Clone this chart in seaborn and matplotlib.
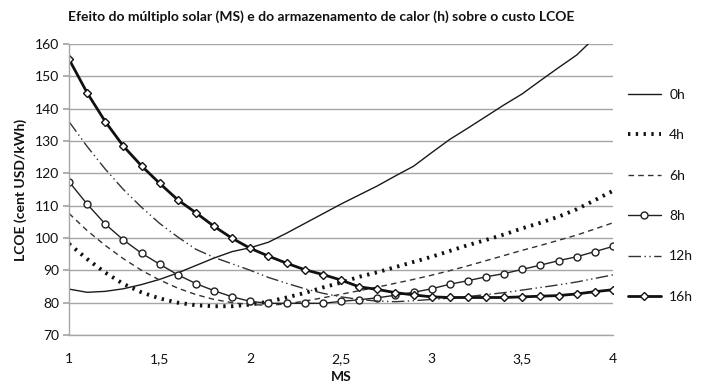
import matplotlib
matplotlib.use("Agg")
import matplotlib.pyplot as plt
import seaborn as sns
import numpy as np

ms = [1.0, 1.1, 1.2, 1.3, 1.4, 1.5, 1.6, 1.7, 1.8, 1.9, 2.0,
      2.1, 2.2, 2.3, 2.4, 2.5, 2.6, 2.7, 2.8, 2.9, 3.0,
      3.1, 3.2, 3.3, 3.4, 3.5, 3.6, 3.7, 3.8, 3.9, 4.0]

h0 = [84.2, 83.2, 83.5, 84.3, 85.6, 87.2, 89.2, 91.5, 93.8, 95.8, 97.0,
      98.7, 101.5, 104.5, 107.5, 110.5, 113.3, 116.1, 119.2, 122.2, 126.4,
      130.5, 134.0, 137.6, 141.2, 144.6, 148.7, 152.7, 156.6, 162.0, 168.0]
h4 = [98.2, 93.5, 89.3, 85.8, 83.2, 81.3, 80.0, 79.2, 78.9, 78.9, 79.4,
      80.3, 81.6, 83.0, 84.7, 86.2, 88.0, 89.4, 91.0, 92.6, 94.2,
      96.0, 97.8, 99.4, 101.1, 103.0, 104.7, 106.6, 108.9, 111.7, 114.6]
h6 = [107.6, 102.3, 97.7, 93.6, 90.0, 87.0, 84.5, 82.5, 81.0, 80.0, 79.4,
      79.2, 79.6, 80.5, 81.5, 82.6, 83.7, 84.8, 86.0, 87.2, 88.5,
      89.9, 91.4, 93.0, 94.6, 96.2, 97.7, 99.3, 100.9, 102.8, 104.7]
h8 = [117.4, 110.5, 104.3, 99.4, 95.3, 91.9, 88.6, 85.9, 83.7, 81.8, 80.4,
      79.8, 79.8, 79.8, 79.8, 80.4, 80.9, 81.5, 82.3, 83.2, 84.3,
      85.7, 86.8, 88.0, 89.0, 90.3, 91.6, 93.0, 94.2, 95.8, 97.4]
h12 = [136.0, 128.3, 121.3, 115.0, 109.5, 104.5, 100.3, 96.5, 94.0, 92.0, 90.0,
       87.8, 86.0, 84.3, 82.9, 81.8, 81.0, 80.5, 80.3, 80.6, 81.0,
       81.4, 81.9, 82.5, 83.1, 83.9, 84.7, 85.5, 86.4, 87.5, 88.6]
h16 = [155.3, 144.9, 136.0, 128.4, 122.3, 116.9, 111.8, 107.8, 103.6, 99.9, 96.8,
       94.4, 92.2, 90.2, 88.7, 87.0, 84.9, 84.1, 83.1, 82.4, 81.8,
       81.6, 81.6, 81.6, 81.6, 81.8, 82.0, 82.2, 82.7, 83.4, 84.0]

labels = ["0h", "4h", "6h", "8h", "12h", "16h"]
series = [h0, h4, h6, h8, h12, h16]

xticks = [1, 1.5, 2, 2.5, 3, 3.5, 4]
xticklabels = ["1", "1,5", "2", "2,5", "3", "3,5", "4"]
yticks = [70, 80, 90, 100, 110, 120, 130, 140, 150, 160]

title = "Efeito do múltiplo solar (MS) e do armazenamento de calor (h) sobre o custo LCOE"

sns.set_theme(style="white")
plt.rcParams['font.family'] = ['Lato', 'DejaVu Sans']

W, H = 704, 387
fig = plt.figure(figsize=(W / 100, H / 100), dpi=100)
ax = fig.add_axes([69 / W, 1 - 335 / H, (613 - 69) / W, (335 - 44) / H])

styles = [
    dict(color="#1a1a1a", linewidth=1.0, linestyle="-"),
    dict(color="#111111", linewidth=2.8, linestyle=(0, (0.6, 1.4)), dash_capstyle="butt"),
    dict(color="#333333", linewidth=1.0, linestyle=(0, (4, 3))),
    dict(color="#222222", linewidth=1.0, linestyle="-", marker="o", markersize=5,
         markerfacecolor="white", markeredgecolor="#222222", markeredgewidth=1.0),
    dict(color="#333333", linewidth=1.0, linestyle=(0, (9, 2.5, 1, 2.5, 1, 2.5))),
    dict(color="#111111", linewidth=2.0, linestyle="-", marker="D", markersize=4.5,
         markerfacecolor="white", markeredgecolor="#111111", markeredgewidth=1.0),
]

for lab, vals, st in zip(labels, series, styles):
    sns.lineplot(x=ms, y=vals, ax=ax, label=lab, **st)

ax.set_xlim(1, 4)
ax.set_ylim(70, 160)
ax.set_xticks(xticks)
ax.set_xticklabels(xticklabels)
ax.set_yticks(yticks)
ax.yaxis.grid(True, color="#a6a6a6", linewidth=1.0)
ax.xaxis.grid(False)
ax.set_axisbelow(True)
for s in ["top", "right"]:
    ax.spines[s].set_visible(False)
for s in ["left", "bottom"]:
    ax.spines[s].set_color("#a6a6a6")
    ax.spines[s].set_linewidth(1.0)
ax.tick_params(axis="y", left=True, length=4, color="#a6a6a6", labelsize=10, pad=3, labelcolor="#111111")
ax.tick_params(axis="x", bottom=False, labelsize=10, pad=7, labelcolor="#111111")

ax.set_xlabel("MS", fontsize=10, fontweight="bold", labelpad=4, color="#111111")
ax.set_ylabel("LCOE (cent USD/kWh)", fontsize=10, fontweight="bold", labelpad=6, color="#111111")
fig.text(321 / W, 1 - 17 / H, title, ha="center", va="center", fontsize=10, fontweight="bold", color="#111111")

ax.get_legend().remove()
handles, labs = ax.get_legend_handles_labels()
leg = fig.legend(handles, labs, loc="upper left", bbox_to_anchor=(622 / W, 1 - 83 / H),
                 frameon=False, fontsize=10, handlelength=2.4, labelspacing=2.05,
                 handletextpad=0.6, borderaxespad=0)
for t in leg.get_texts():
    t.set_color("#111111")

fig.savefig("out.png", dpi=100)
